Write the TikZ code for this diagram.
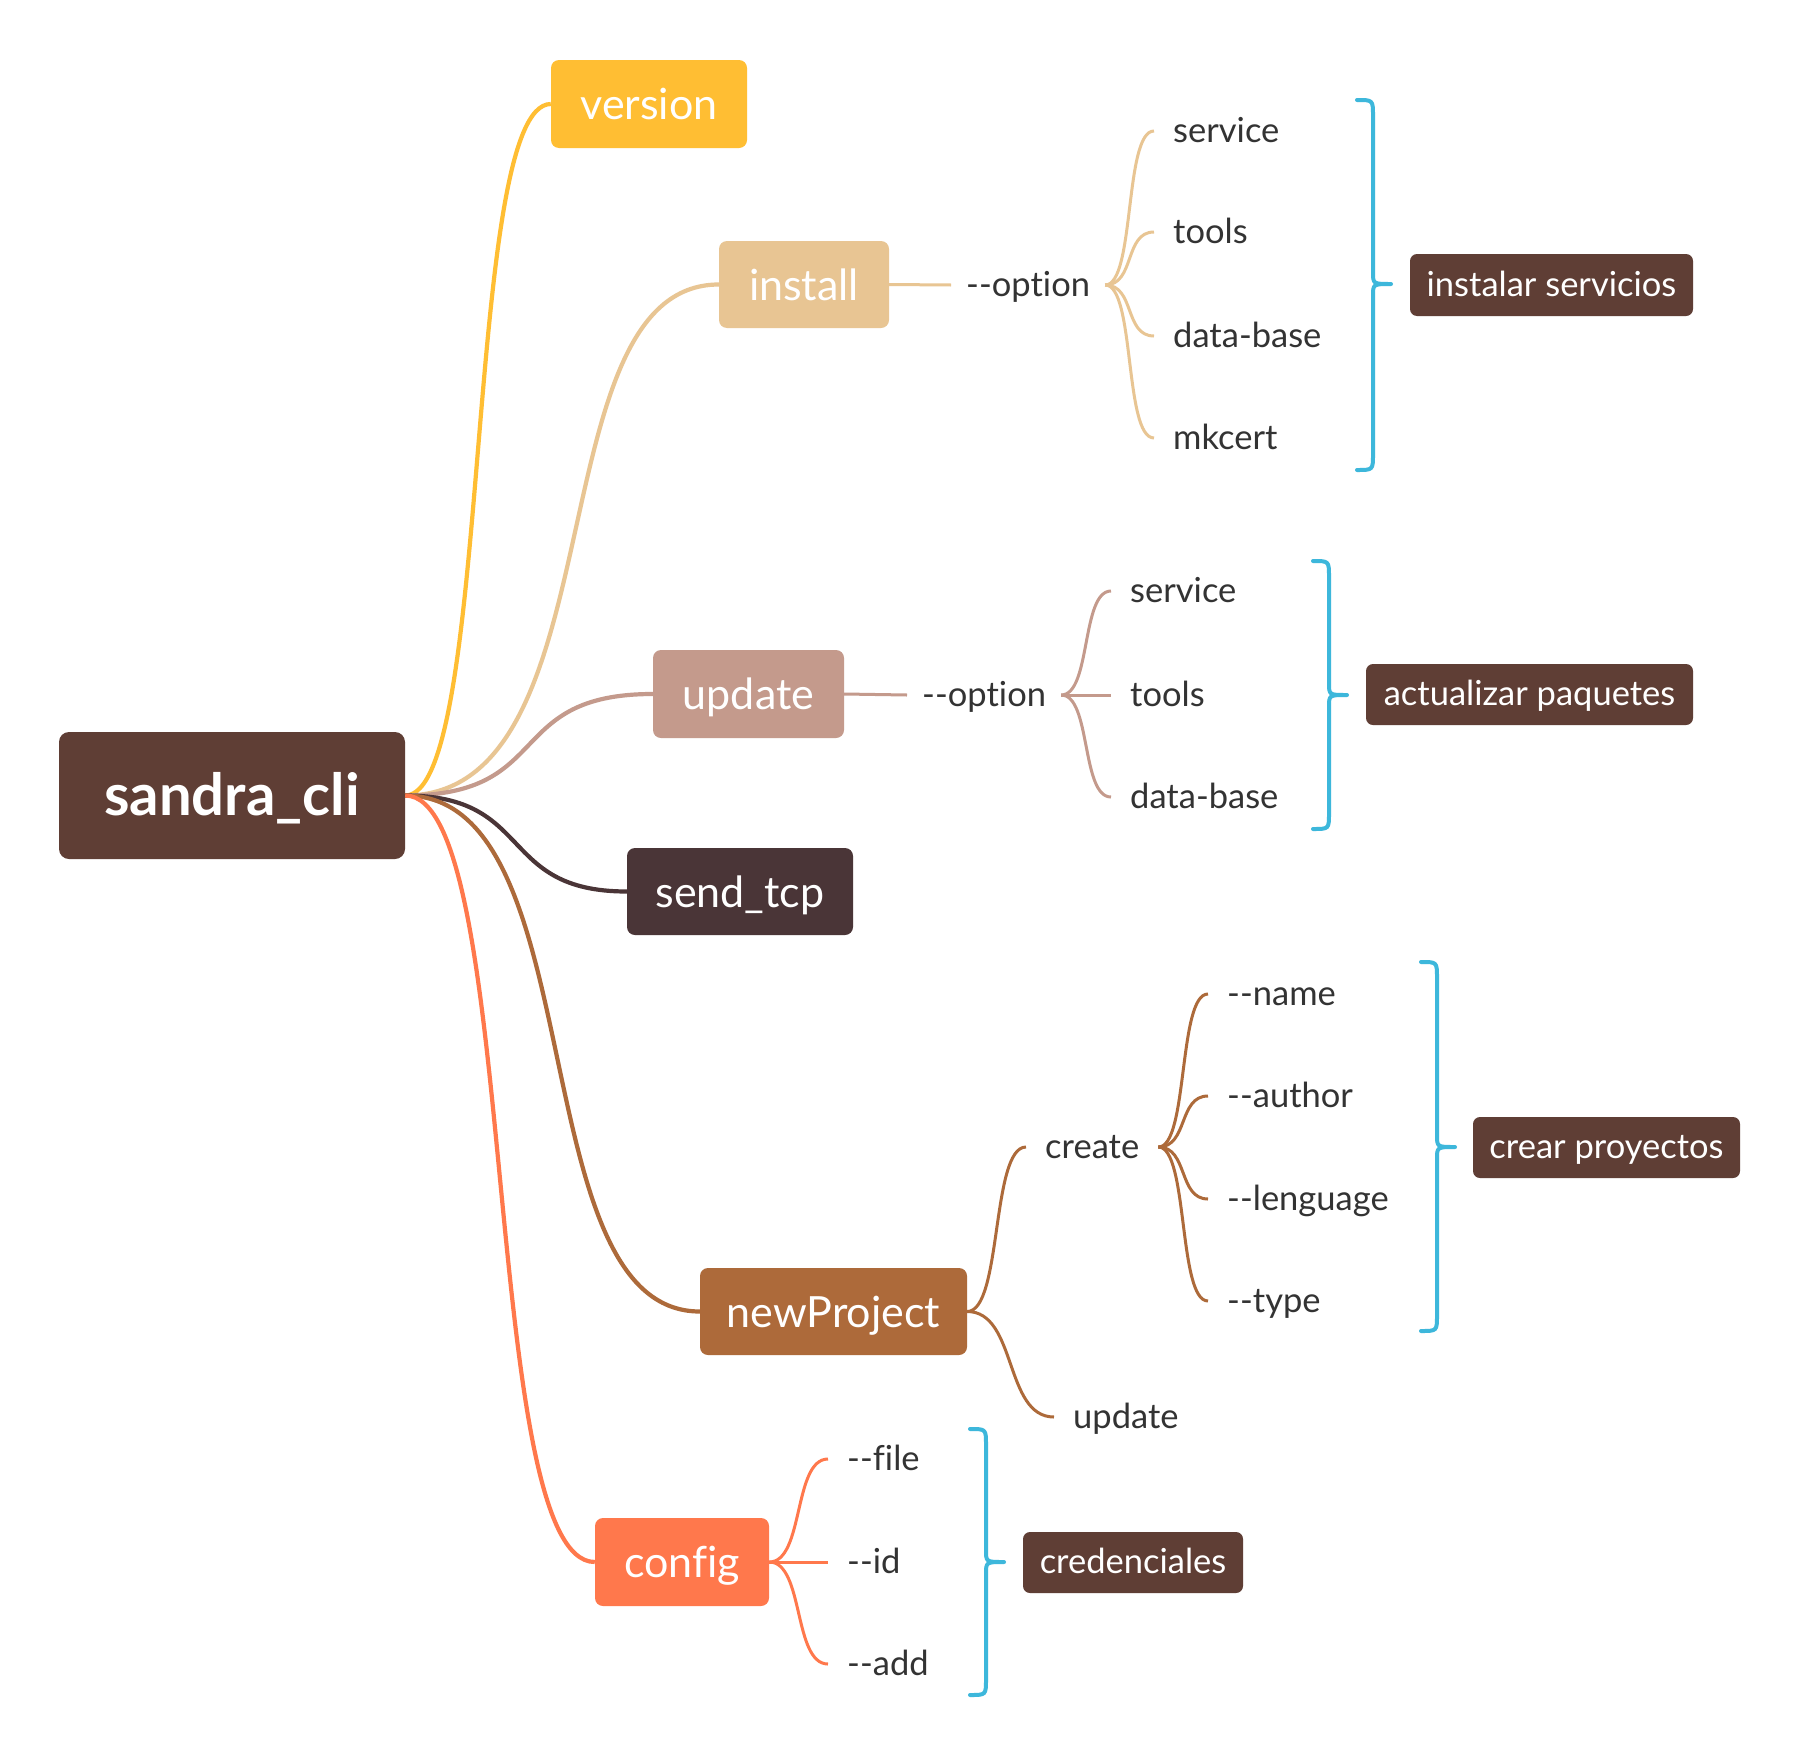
\documentclass[tikz,border=0pt]{standalone}
\usepackage{fontspec}
\setmainfont[Ligatures={TeX,NoCommon}]{Lato}
\definecolor{cyel}{HTML}{FFBE33}
\definecolor{ctan}{HTML}{E8C593}
\definecolor{crose}{HTML}{C49A8C}
\definecolor{croot}{HTML}{5F3E35}
\definecolor{csend}{HTML}{4A3537}
\definecolor{cbrown}{HTML}{AD6A3A}
\definecolor{ccoral}{HTML}{FF784C}
\definecolor{cblue}{HTML}{3DB7DB}
\definecolor{ctxt}{HTML}{333333}
\begin{document}
\begin{tikzpicture}[x=1pt,y=-1pt,
  boxnode/.style={rounded corners=8pt, inner sep=0pt, text=white, font=\fontsize{43}{43}\selectfont, text height=36pt, text depth=5pt},
  rootbox/.style={rounded corners=10pt, inner sep=0pt, fill=croot, text=white, font=\fontsize{58}{58}\selectfont\bfseries, text height=48pt, text depth=7.7pt},
  labbox/.style={rounded corners=7pt, inner sep=0pt, fill=croot, text=white, font=\fontsize{34.5}{34.5}\selectfont, text height=28pt, text depth=5.5pt},
  leaf/.style={anchor=west, inner xsep=19pt, inner ysep=0pt, text=ctxt, font=\fontsize{34.5}{34.5}\selectfont, text height=28pt, text depth=5.7pt},
  optleaf/.style={leaf, inner xsep=15pt},
  mainline/.style={line width=4.2pt},
  subline/.style={line width=3pt},
  bracepath/.style={cblue, line width=4pt, line cap=round, line join=round}
]
\useasboundingbox (0,0) rectangle (1802,1756);
\fill[white] (0,0) rectangle (1802,1756);

% main nodes
\node[rootbox, minimum width=346pt, minimum height=127pt] (root) at (232,795.5) {sandra\_cli};
\node[boxnode, fill=cyel, minimum width=196pt, minimum height=88pt] (version) at (649,104) {version};
\node[boxnode, fill=ctan, minimum width=170pt, minimum height=87pt] (install) at (804,284.5) {install};
\node[boxnode, fill=crose, minimum width=191pt, minimum height=88pt] (update) at (748.5,694) {update};
\node[boxnode, fill=csend, minimum width=226pt, minimum height=87pt] (sendtcp) at (740,891.5) {send\_tcp};
\node[boxnode, fill=cbrown, minimum width=267pt, minimum height=87pt] (newproj) at (833.5,1311.5) {newProject};
\node[boxnode, fill=ccoral, minimum width=174pt, minimum height=88pt] (config) at (682,1562) {config};

% root connectors
\draw[mainline, cyel] (root.east) .. controls +(88,0) and +(-88,0) .. (version.west);
\draw[mainline, ctan] (root.east) .. controls +(215,0) and +(-185,0) .. (install.west);
\draw[mainline, crose] (root.east) .. controls +(150,0) and +(-150,0) .. (update.west);
\draw[mainline, csend] (root.east) .. controls +(130,0) and +(-130,0) .. (sendtcp.west);
\draw[mainline, cbrown] (root.east) .. controls +(190,0) and +(-180,0) .. (newproj.west);
\draw[mainline, ccoral] (root.east) .. controls +(115,0) and +(-115,0) .. (config.west);

% install branch
\node[optleaf] (iopt) at (951,285) {-{}-option};
\node[leaf] (is1) at (1154,131) {service};
\node[leaf] (is2) at (1154,232) {tools};
\node[leaf] (is3) at (1154,336) {data-base};
\node[leaf] (is4) at (1154,438) {mkcert};
\draw[subline, ctan] (install.east) -- (iopt.west);
\foreach \c in {is1,is2,is3,is4}
  \draw[subline, ctan] (iopt.east) .. controls +(30,0) and +(-30,0) .. (\c.west);

% update branch
\node[optleaf] (uopt) at (907,695) {-{}-option};
\node[leaf] (us1) at (1111,591) {service};
\node[leaf] (us2) at (1111,695) {tools};
\node[leaf] (us3) at (1111,797) {data-base};
\draw[subline, crose] (update.east) -- (uopt.west);
\foreach \c in {us1,us2,us3}
  \draw[subline, crose] (uopt.east) .. controls +(30,0) and +(-30,0) .. (\c.west);

% newProject branch
\node[leaf] (create) at (1026,1147) {create};
\node[leaf] (nupd) at (1054,1417) {update};
\draw[subline, cbrown] (newproj.east) .. controls +(35,0) and +(-35,0) .. (create.west);
\draw[subline, cbrown] (newproj.east) .. controls +(50,0) and +(-50,0) .. (nupd.west);
\node[leaf] (cn1) at (1208,994) {-{}-name};
\node[leaf] (cn2) at (1208,1096) {-{}-author};
\node[leaf] (cn3) at (1208,1199) {-{}-lenguage};
\node[leaf] (cn4) at (1208,1301) {-{}-type};
\foreach \c in {cn1,cn2,cn3,cn4}
  \draw[subline, cbrown] (create.east) .. controls +(30,0) and +(-30,0) .. (\c.west);

% config branch
\node[leaf] (cf1) at (828,1459) {-{}-file};
\node[leaf] (cf2) at (828,1562) {-{}-id};
\node[leaf] (cf3) at (828,1664) {-{}-add};
\foreach \c in {cf1,cf2,cf3}
  \draw[subline, ccoral] (config.east) .. controls +(35,0) and +(-35,0) .. (\c.west);

% braces
\draw[bracepath] (1357,100) .. controls (1373,100) .. (1373,116) -- (1373,272)
  .. controls (1373,284) .. (1391,284) .. controls (1373,284) .. (1373,296)
  -- (1373,454) .. controls (1373,470) .. (1357,470);
\draw[bracepath] (1313,561) .. controls (1329,561) .. (1329,577) -- (1329,683)
  .. controls (1329,695) .. (1347,695) .. controls (1329,695) .. (1329,707)
  -- (1329,813) .. controls (1329,829) .. (1313,829);
\draw[bracepath] (1421,962) .. controls (1437,962) .. (1437,978) -- (1437,1135)
  .. controls (1437,1147) .. (1455,1147) .. controls (1437,1147) .. (1437,1159)
  -- (1437,1315) .. controls (1437,1331) .. (1421,1331);
\draw[bracepath] (970,1429) .. controls (986,1429) .. (986,1445) -- (986,1550)
  .. controls (986,1562) .. (1004,1562) .. controls (986,1562) .. (986,1574)
  -- (986,1679) .. controls (986,1695) .. (970,1695);

% label boxes
\node[labbox, minimum width=283pt, minimum height=62pt] (lab1) at (1551.5,285) {instalar servicios};
\node[labbox, minimum width=327pt, minimum height=61pt] (lab2) at (1529.5,694.5) {actualizar paquetes};
\node[labbox, minimum width=267pt, minimum height=61pt] (lab3) at (1606.5,1147.5) {crear proyectos};
\node[labbox, minimum width=220pt, minimum height=61pt] (lab4) at (1133,1562.5) {credenciales};
\end{tikzpicture}
\end{document}
